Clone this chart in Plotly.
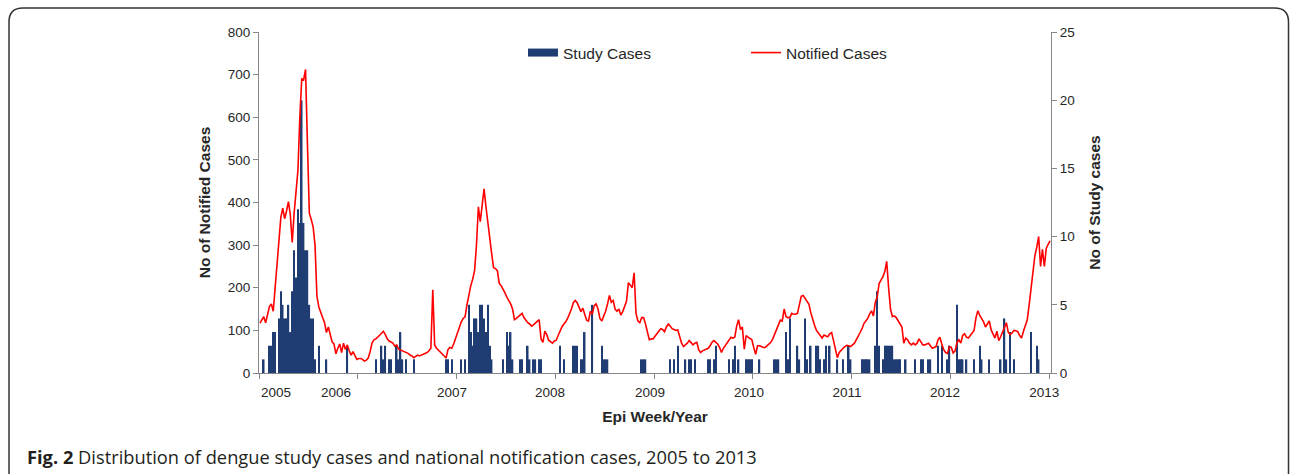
import plotly.graph_objects as go

# ---------------- data (weekly, epi weeks) ----------------
years = ["2005", "2006", "2007", "2008", "2009", "2010", "2011", "2012", "2013"]

notified_2005 = [117, 125, 132, 118, 140, 156, 162, 145, 200, 260, 310, 365, 387, 362, 380, 402, 371, 306, 375, 420,
                 476, 600, 690, 688, 712, 539, 375, 360, 343, 300, 180, 155, 140, 130, 118, 95, 108, 90, 73, 68,
                 45, 58, 68, 48, 70, 55, 66, 52, 42, 50, 40, 32]
notified_2006 = [34, 34, 32, 28, 30, 35, 50, 70, 78, 80, 84, 88, 92, 98, 90, 80, 75, 72, 70, 63,
                 66, 56, 54, 52, 50, 48, 46, 42, 40, 36, 40, 42, 40, 42, 44, 46, 48, 52, 58, 195,
                 65, 58, 54, 50, 46, 40, 35, 55, 60, 58, 68, 82]
notified_2007 = [95, 110, 120, 128, 132, 160, 188, 205, 220, 240, 300, 390, 355, 400, 432, 390, 350, 318, 280, 247,
                 245, 240, 210, 205, 198, 188, 178, 170, 162, 150, 125, 128, 132, 136, 140, 130, 123, 118, 115, 110,
                 113, 117, 122, 125, 80, 72, 98, 90, 77, 74, 70, 75]
notified_2008 = [77, 88, 100, 108, 115, 120, 128, 138, 150, 165, 170, 165, 155, 144, 152, 135, 124, 122, 145, 138,
                 158, 162, 150, 128, 122, 134, 145, 162, 182, 166, 170, 150, 145, 150, 136, 144, 155, 168, 212, 205,
                 200, 235, 140, 122, 118, 130, 130, 115, 95, 78, 80, 80]
notified_2009 = [86, 92, 100, 104, 102, 97, 108, 115, 110, 104, 102, 100, 101, 85, 70, 62, 65, 70, 76, 72,
                 66, 70, 72, 55, 48, 52, 54, 55, 58, 64, 72, 76, 73, 68, 60, 48, 58, 64, 70, 76,
                 84, 82, 84, 110, 125, 102, 108, 56, 88, 84, 80, 78]
notified_2010 = [60, 44, 64, 64, 62, 60, 60, 64, 68, 72, 80, 90, 100, 112, 124, 122, 150, 132, 130, 130,
                 140, 138, 138, 140, 165, 180, 182, 175, 168, 162, 142, 125, 112, 100, 95, 88, 82, 89, 87, 85,
                 92, 95, 76, 55, 36, 48, 54, 58, 62, 65, 64, 62]
notified_2011 = [66, 70, 78, 85, 95, 104, 116, 122, 128, 138, 146, 134, 166, 178, 210, 218, 226, 238, 262, 200,
                 150, 132, 134, 130, 122, 115, 108, 70, 82, 78, 70, 66, 70, 66, 70, 80, 72, 66, 66, 68,
                 70, 64, 58, 60, 62, 78, 84, 68, 55, 48, 46, 62]
notified_2012 = [60, 47, 52, 72, 78, 70, 88, 92, 84, 82, 88, 92, 100, 130, 146, 135, 128, 120, 108, 115,
                 122, 101, 90, 82, 98, 76, 85, 96, 110, 118, 96, 90, 94, 100, 99, 97, 88, 82, 98, 110,
                 125, 160, 200, 250, 275, 295, 320, 250, 290, 250, 292, 302, 310]

study_2005 = [0, 0, 1, 0, 0, 2, 2, 3, 3, 0, 4, 6, 5, 4, 4, 5, 3, 6, 9, 7,
              12, 11, 20, 11, 9, 9, 5, 4, 4, 1, 0, 2, 0, 0, 0, 1, 0, 0, 0, 0,
              0, 0, 0, 0, 0, 0, 2, 0, 0, 0, 0, 0]
study_2006 = [0, 0, 0, 0, 0, 0, 0, 0, 0, 1, 0, 0, 2, 1, 2, 0, 1, 1, 0, 0,
              2, 1, 3, 1, 0, 1, 0, 0, 0, 1, 0, 0, 0, 0, 0, 0, 0, 0, 0, 0,
              0, 0, 0, 0, 0, 0, 1, 1, 0, 1, 0, 0]
study_2007 = [0, 0, 1, 0, 1, 0, 5, 3, 2, 4, 4, 3, 5, 5, 4, 3, 5, 2, 1, 0,
              0, 0, 0, 0, 1, 0, 3, 2, 3, 1, 0, 0, 0, 1, 1, 0, 0, 2, 1, 0,
              1, 1, 0, 1, 1, 0, 0, 0, 0, 0, 0, 0]
study_2008 = [0, 0, 2, 0, 1, 0, 0, 0, 0, 2, 2, 2, 0, 1, 1, 3, 0, 0, 0, 5,
              0, 0, 0, 0, 2, 1, 1, 1, 0, 0, 0, 0, 0, 0, 0, 0, 0, 0, 0, 0,
              0, 0, 0, 0, 0, 1, 1, 1, 0, 0, 0, 0]
study_2009 = [0, 0, 0, 0, 0, 0, 0, 0, 1, 0, 1, 0, 2, 0, 0, 0, 1, 0, 1, 1,
              0, 1, 0, 0, 0, 0, 0, 0, 1, 1, 0, 1, 2, 0, 0, 0, 0, 0, 0, 1,
              0, 1, 2, 0, 1, 0, 0, 0, 1, 1, 1, 1]
study_2010 = [0, 0, 0, 1, 0, 0, 0, 0, 0, 0, 0, 1, 1, 1, 0, 0, 0, 3, 1, 4,
              0, 0, 0, 2, 1, 0, 0, 4, 1, 0, 2, 0, 0, 2, 2, 1, 0, 1, 2, 0,
              2, 0, 0, 0, 1, 0, 0, 1, 0, 0, 2, 1]
study_2011 = [0, 0, 0, 0, 0, 1, 1, 1, 1, 1, 0, 0, 2, 6, 2, 0, 1, 2, 2, 2,
              2, 2, 1, 1, 1, 1, 0, 0, 1, 0, 0, 0, 0, 1, 0, 0, 1, 1, 0, 0,
              1, 1, 0, 0, 0, 2, 0, 2, 0, 0, 1, 2]
study_2012 = [0, 0, 0, 5, 1, 1, 1, 0, 1, 0, 0, 0, 1, 0, 0, 2, 1, 0, 0, 0,
              1, 0, 0, 0, 0, 0, 1, 0, 4, 1, 0, 3, 0, 1, 0, 0, 0, 0, 0, 0,
              0, 0, 3, 0, 0, 2, 1, 0, 0, 0, 0, 0, 0]

# year boundary positions (week index) and label positions on the category axis
year_start_weeks = [0, 52, 104, 156, 208, 260, 312, 364, 416]
year_label_weeks = [9.0, 40.5, 101.6, 153.2, 205.9, 258.0, 309.6, 361.2, 413.4]

notified = (notified_2005 + notified_2006 + notified_2007 + notified_2008 +
            notified_2009 + notified_2010 + notified_2011 + notified_2012)
study = (study_2005 + study_2006 + study_2007 + study_2008 +
         study_2009 + study_2010 + study_2011 + study_2012)
n_weeks = len(notified)
weeks = [i + 0.5 for i in range(n_weeks)]

NAVY = "#1f3d73"
RED = "#ff0000"
AXIS = "#868686"
TXT = "#262626"
FONT = "Liberation Sans, Arial, sans-serif"

# ---------------- geometry ----------------
W, H = 1290, 474
L, R, T, B = 259, 239, 32, 101
PW, PH = W - L - R, H - T - B


def px_x(px):
    return (px - L) / PW


def px_y(py):
    return (H - B - py) / PH


fig = go.Figure()

fig.add_trace(go.Bar(x=weeks, y=study, xaxis="x", yaxis="y", marker=dict(color=NAVY, line=dict(width=0)),
                     width=0.8, showlegend=False, name="Study Cases", hoverinfo="x+y"))
fig.add_trace(go.Scatter(x=weeks, y=notified, xaxis="x", yaxis="y2", mode="lines",
                         line=dict(color=RED, width=1.6), name="Notified Cases", legend="legend2"))
# legend entry for the bars (wide flat swatch, like the original)
fig.add_trace(go.Scatter(x=[None], y=[None], xaxis="x", yaxis="y", mode="lines",
                         line=dict(color=NAVY, width=8), name="Study Cases", legend="legend"))
# carrier for the year label axis
fig.add_trace(go.Scatter(x=[None], y=[None], xaxis="x2", yaxis="y", mode="markers",
                         showlegend=False, hoverinfo="skip"))

r = 14
x0, x1, y0, yb = 9, 1288.5, 8, 500
path = (f"M {px_x(x0)},{px_y(yb)} L {px_x(x0)},{px_y(y0 + r)} "
        f"Q {px_x(x0)},{px_y(y0)} {px_x(x0 + r)},{px_y(y0)} "
        f"L {px_x(x1 - r)},{px_y(y0)} "
        f"Q {px_x(x1)},{px_y(y0)} {px_x(x1)},{px_y(y0 + r)} "
        f"L {px_x(x1)},{px_y(yb)}")

TITLE_FONT = dict(family=FONT, size=15.5, color=TXT)
TICK_FONT = dict(family=FONT, size=13.5, color=TXT)

fig.update_layout(
    width=W, height=H,
    margin=dict(l=L, r=R, t=T, b=B, autoexpand=False),
    paper_bgcolor="white", plot_bgcolor="white",
    font=dict(family=FONT, size=13, color=TXT),
    bargap=0.2,
    xaxis=dict(range=[0, n_weeks], tickvals=year_start_weeks, showticklabels=False,
               ticks="outside", ticklen=5, tickcolor=AXIS, showline=True, linecolor=AXIS, linewidth=1,
               showgrid=False, zeroline=False),
    xaxis2=dict(range=[0, n_weeks], overlaying="x", side="bottom", tickvals=year_label_weeks,
                ticktext=years, ticks="outside", ticklen=7, tickcolor="rgba(0,0,0,0)",
                showline=False, showgrid=False, zeroline=False, tickfont=TICK_FONT,
                title=dict(text="<b>Epi Week/Year</b>", standoff=11, font=TITLE_FONT)),
    yaxis=dict(range=[0, 25], tickvals=[0, 5, 10, 15, 20, 25], side="right",
               ticks="outside", ticklen=5, tickcolor=AXIS, showline=True, linecolor=AXIS, linewidth=1,
               showgrid=False, zeroline=False, tickfont=TICK_FONT,
               title=dict(text="<b>No of Study cases</b>", standoff=15, font=TITLE_FONT)),
    yaxis2=dict(range=[0, 800], tickvals=list(range(0, 801, 100)), overlaying="y", side="left",
                ticks="outside", ticklen=5, tickcolor=AXIS, showline=True, linecolor=AXIS, linewidth=1,
                showgrid=False, zeroline=False, tickfont=TICK_FONT,
                title=dict(text="<b>No of Notified Cases</b>", standoff=13, font=TITLE_FONT)),
    legend=dict(x=px_x(523), y=px_y(53), xanchor="left", yanchor="middle", orientation="h",
                bgcolor="rgba(0,0,0,0)", font=dict(family=FONT, size=15.5, color=TXT)),
    legend2=dict(x=px_x(746), y=px_y(53), xanchor="left", yanchor="middle", orientation="h",
                 bgcolor="rgba(0,0,0,0)", font=dict(family=FONT, size=15.5, color=TXT)),
    shapes=[dict(type="path", xref="paper", yref="paper", path=path,
                 line=dict(color="#333333", width=1.5), layer="above")],
    annotations=[dict(xref="paper", yref="paper", x=px_x(25), y=px_y(456), xanchor="left", yanchor="middle",
                      showarrow=False,
                      text="<b>Fig. 2</b> Distribution of dengue study cases and national notification cases, 2005 to 2013",
                      font=dict(family="Open Sans, sans-serif", size=18.3, color="#231f20"))],
)

fig.write_html("out.html", config={"displayModeBar": False},
               post_script="document.body.style.margin='0px';")
